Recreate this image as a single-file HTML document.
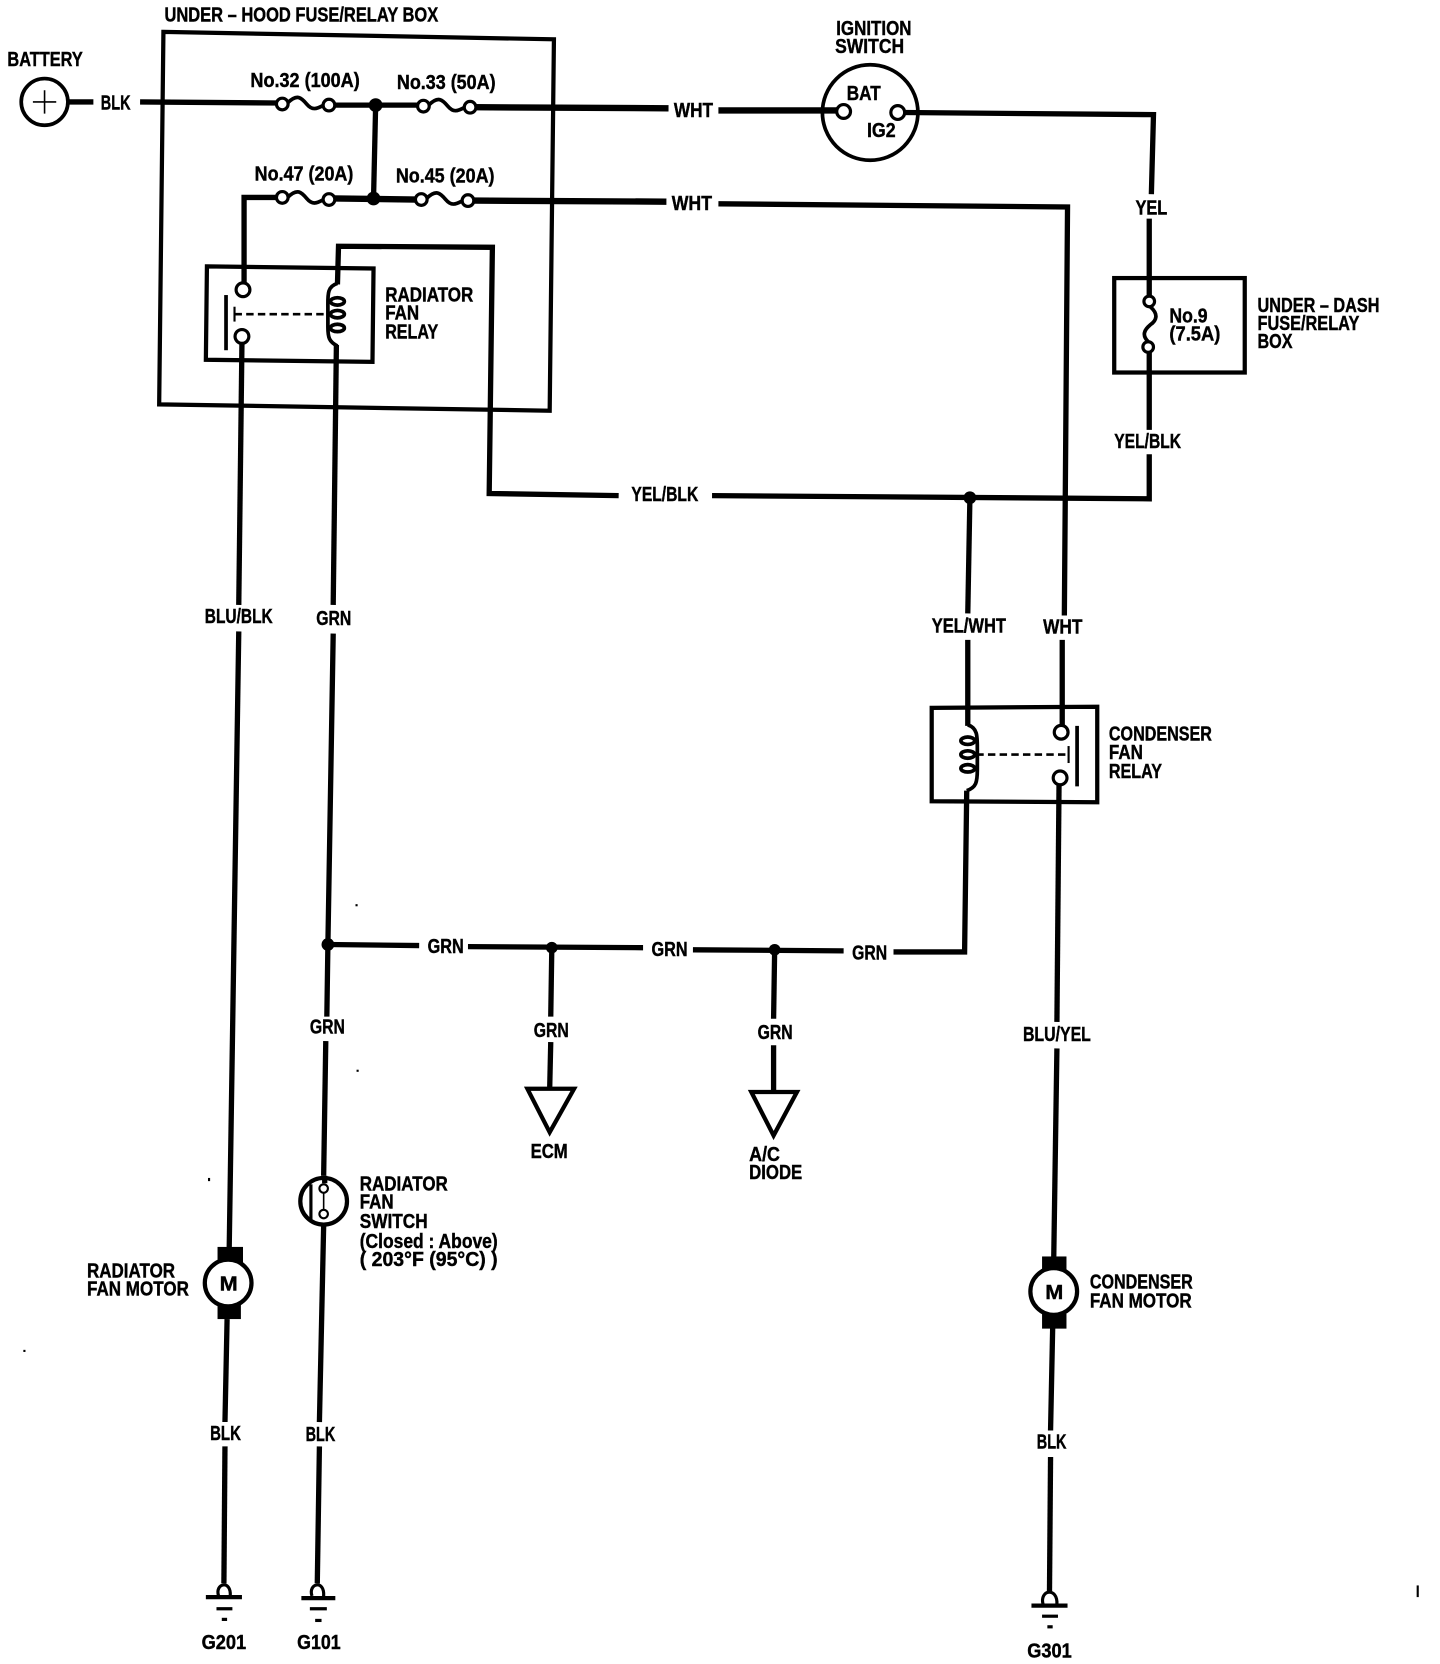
<!DOCTYPE html>
<html><head><meta charset="utf-8"><title>Cooling fan wiring diagram</title>
<style>
html,body{margin:0;padding:0;background:#fff}
svg{display:block}
text{font-family:"Liberation Sans",sans-serif;font-weight:bold;font-size:19px;fill:#000;stroke:#000;stroke-width:.4px}
.w{fill:none;stroke:#000;stroke-width:5;stroke-linejoin:miter}
.n{fill:none;stroke:#000;stroke-width:4}
.t{fill:#fff;stroke:#000;stroke-width:3}
.f{fill:none;stroke:#000;stroke-width:3.5}
.d{fill:#000;stroke:none}
</style></head><body>
<svg width="1440" height="1664" viewBox="0 0 1357 1568" xmlns="http://www.w3.org/2000/svg">
<!-- Boxes -->
<polygon class="n" points="154,30 522,37 518,387 150,381"/>
<polygon class="n" points="195,251 352,253 351,341 194,339"/>
<rect class="n" x="1050" y="262" width="123" height="89"/>
<polygon class="n" points="878,667 1034,666 1034,756 878,755"/>

<!-- Battery -->
<circle class="f" cx="42" cy="96" r="22"/>
<path d="M31,96H53M42,85V107" fill="none" stroke="#000" stroke-width="1.5"/>
<path class="w" stroke-width="6" d="M64,96H88"/>
<path class="w" d="M132,96L262,97"/>
<path class="w" stroke-width="6" d="M314,99L395,99"/>
<path class="w" d="M354,99L352,187"/>
<path class="w" style="stroke-width:6" d="M447,101L630,102"/>
<path class="w" style="stroke-width:6" d="M677,104L790,104"/>
<path class="w" d="M852,106L1087,108L1085,183"/>
<path class="w" d="M1083,206L1083,280"/>
<path class="w" d="M1083,332L1083,405"/>
<path class="w" d="M1083,428L1083,470L671,467"/>
<path class="w" d="M583,467L461,465L464,233L319,232L318,268"/>
<path class="w" d="M261,186L230,186L230,268"/>
<path class="w" style="stroke-width:6" d="M314,187L393,188"/>
<path class="w" style="stroke-width:6" d="M446,189L628,190"/>
<path class="w" d="M677,192L1006,195L1003,580"/>
<path class="w" d="M1001,603L1001,684"/>
<path class="w" d="M914,469L912,578"/>
<path class="w" d="M912,603L912,684"/>
<path class="w" d="M228,323L225,570"/>
<path class="w" d="M225,595L216,1176"/>
<path class="w" d="M317,325L314,570"/>
<path class="w" d="M314,597L309,890L308,958"/>
<path class="w" d="M307,981L305,1108"/>
<path class="w" d="M305,1155L301,1340"/>
<path class="w" d="M301,1363L299,1492"/>
<path class="w" d="M214,1243L212,1340"/>
<path class="w" d="M212,1363L211,1492"/>
<path class="w" d="M309,890L395,891"/>
<path class="w" d="M441,892L606,893"/>
<path class="w" d="M653,895L795,896"/>
<path class="w" d="M842,897L909,897L911,745"/>
<path class="w" d="M520,893L519,958"/>
<path class="w" d="M519,982L518,1026"/>
<path class="w" d="M730,895L729,960"/>
<path class="w" d="M729,985L729,1029"/>
<path class="w" d="M998,738L996,963"/>
<path class="w" d="M996,988L993,1186"/>
<path class="w" d="M992,1251L990,1348"/>
<path class="w" d="M990,1373L989,1500"/>

<!-- Junction dots -->
<circle class="d" cx="354" cy="99" r="6.5"/>
<circle class="d" cx="352" cy="187" r="6.5"/>
<circle class="d" cx="914" cy="469" r="6"/>
<circle class="d" cx="309" cy="890" r="6"/>
<circle class="d" cx="520" cy="893" r="5.5"/>
<circle class="d" cx="730" cy="895" r="5.5"/>

<!-- Fuses -->
<path class="f" d="M271,97C280,88 284,92 289,98C294,104 298,103 305,99"/>
<circle class="t" cx="266" cy="98" r="5.5"/><circle class="t" cx="310" cy="99" r="5.5"/>
<path class="f" d="M404,99C413,90 417,94 422,100C427,106 431,105 438,101"/>
<circle class="t" cx="399" cy="100" r="5.5"/><circle class="t" cx="443" cy="101" r="5.5"/>
<path class="f" d="M271,186C280,177 284,181 289,187C294,193 298,192 305,188"/>
<circle class="t" cx="266" cy="186" r="5.5"/><circle class="t" cx="310" cy="188" r="5.5"/>
<path class="f" d="M402,187C411,178 415,182 420,188C425,194 429,193 436,189"/>
<circle class="t" cx="397" cy="188" r="5.5"/><circle class="t" cx="441" cy="189" r="5.5"/>
<path class="f" d="M1084,289C1092,296 1090,302 1084,306C1078,311 1076,316 1082,322"/>
<circle class="t" cx="1083" cy="284" r="5"/><circle class="t" cx="1082" cy="327" r="5"/>

<!-- Ignition switch -->
<ellipse class="f" cx="820" cy="106" rx="45" ry="45"/>
<circle class="t" cx="795" cy="105" r="6.5"/><circle class="t" cx="846" cy="106" r="6.5"/>

<!-- Radiator fan relay -->
<circle class="t" cx="229" cy="273" r="6.5"/><circle class="t" cx="228" cy="317" r="6.5"/>
<path d="M213,278V330" stroke="#000" stroke-width="3.5"/>
<path d="M221,289V303" stroke="#000" stroke-width="2"/>
<path d="M221,296H309" stroke="#000" stroke-width="2.5" stroke-dasharray="7 4" fill="none"/>
<path class="f" d="M318,267C308,270 309,278 309,290V308C309,318 310,322 318,326"/>
<ellipse class="f" cx="318" cy="284" rx="6.5" ry="3.5"/>
<ellipse class="f" cx="318" cy="296" rx="6.5" ry="3.5"/>
<ellipse class="f" cx="318" cy="309" rx="6.5" ry="3.5"/>

<!-- Condenser fan relay -->
<circle class="t" cx="1000" cy="690" r="6.5"/><circle class="t" cx="999" cy="733" r="6.5"/>
<path d="M1015,684V741" stroke="#000" stroke-width="3.5"/>
<path d="M1007,703V719" stroke="#000" stroke-width="2"/>
<path d="M920,711H1007" stroke="#000" stroke-width="2.5" stroke-dasharray="7 4" fill="none"/>
<path class="f" d="M912,683C921,686 921,693 921,705V725C921,737 920,742 911,745"/>
<ellipse class="f" cx="912" cy="698" rx="6.5" ry="3.5"/>
<ellipse class="f" cx="912" cy="711" rx="6.5" ry="3.5"/>
<ellipse class="f" cx="912" cy="724" rx="6.5" ry="3.5"/>

<!-- Triangles -->
<polygon class="n" points="497,1026 541,1026 518,1067"/>
<polygon class="n" points="708,1029 751,1029 729,1070"/>

<!-- Motors -->
<rect class="d" x="205" y="1175" width="24" height="17"/>
<rect class="d" x="205" y="1228" width="22" height="15"/>
<circle cx="215" cy="1209" r="22" fill="#fff" stroke="#000" stroke-width="4"/>
<rect class="d" x="982" y="1184" width="23" height="14"/>
<rect class="d" x="982" y="1238" width="23" height="14"/>
<circle cx="993" cy="1217" r="22" fill="#fff" stroke="#000" stroke-width="4"/>

<!-- Radiator fan switch -->
<circle cx="305" cy="1132" r="22" fill="#fff" stroke="#000" stroke-width="4"/>
<path d="M293,1116V1150" stroke="#000" stroke-width="3"/>
<path d="M305,1124V1140" stroke="#000" stroke-width="1.5"/>
<circle class="t" cx="305" cy="1120" r="4" style="stroke-width:2"/>
<circle class="t" cx="305" cy="1144" r="4" style="stroke-width:2"/>
<path class="w" d="M306,1108V1115"/>

<!-- Grounds -->
<g fill="none" stroke="#000">
<path d="M206,1504C202,1492 218,1488 217,1504" stroke-width="3"/>
<path d="M194,1505H228" stroke-width="4"/><path d="M204,1516H219" stroke-width="3"/><path d="M209,1526H214" stroke-width="3"/>
<path d="M294,1504C290,1492 306,1488 305,1504" stroke-width="3"/>
<path d="M284,1506H316" stroke-width="4"/><path d="M292,1516H308" stroke-width="3"/><path d="M297,1527H303" stroke-width="3"/>
<path d="M983,1512C979,1498 997,1495 996,1512" stroke-width="3"/>
<path d="M972,1513H1006" stroke-width="4"/><path d="M982,1523H997" stroke-width="3"/><path d="M987,1533H992" stroke-width="3"/>
</g>

<!-- Specks -->
<g class="d"><rect x="196" y="1110" width="2" height="3"/><rect x="335" y="852" width="2" height="2"/><rect x="336" y="1008" width="2" height="2"/><rect x="22" y="1272" width="2" height="2"/><rect x="1335" y="1494" width="2" height="11"/></g>

<!-- Labels -->
<g>
<text x="155" y="20" textLength="258" lengthAdjust="spacingAndGlyphs">UNDER – HOOD FUSE/RELAY BOX</text>
<text x="7" y="62" textLength="71" lengthAdjust="spacingAndGlyphs">BATTERY</text>
<text x="95" y="103" textLength="28" lengthAdjust="spacingAndGlyphs">BLK</text>
<text x="236" y="82" textLength="103" lengthAdjust="spacingAndGlyphs">No.32 (100A)</text>
<text x="374" y="84" textLength="93" lengthAdjust="spacingAndGlyphs">No.33 (50A)</text>
<text x="240" y="170" textLength="93" lengthAdjust="spacingAndGlyphs">No.47 (20A)</text>
<text x="373" y="172" textLength="93" lengthAdjust="spacingAndGlyphs">No.45 (20A)</text>
<text x="635" y="110" textLength="37" lengthAdjust="spacingAndGlyphs">WHT</text>
<text x="633" y="198" textLength="38" lengthAdjust="spacingAndGlyphs">WHT</text>
<text x="363" y="284" textLength="83" lengthAdjust="spacingAndGlyphs">RADIATOR</text>
<text x="363" y="301" textLength="32" lengthAdjust="spacingAndGlyphs">FAN</text>
<text x="363" y="319" textLength="50" lengthAdjust="spacingAndGlyphs">RELAY</text>
<text x="788" y="33" textLength="71" lengthAdjust="spacingAndGlyphs">IGNITION</text>
<text x="787" y="50" textLength="65" lengthAdjust="spacingAndGlyphs">SWITCH</text>
<text x="798" y="94" textLength="32" lengthAdjust="spacingAndGlyphs">BAT</text>
<text x="817" y="129" textLength="27" lengthAdjust="spacingAndGlyphs">IG2</text>
<text x="1070" y="202" textLength="30" lengthAdjust="spacingAndGlyphs">YEL</text>
<text x="1102" y="304" textLength="36" lengthAdjust="spacingAndGlyphs">No.9</text>
<text x="1102" y="321" textLength="48" lengthAdjust="spacingAndGlyphs">(7.5A)</text>
<text x="1185" y="294" textLength="115" lengthAdjust="spacingAndGlyphs">UNDER – DASH</text>
<text x="1185" y="311" textLength="96" lengthAdjust="spacingAndGlyphs">FUSE/RELAY</text>
<text x="1185" y="328" textLength="33" lengthAdjust="spacingAndGlyphs">BOX</text>
<text x="1050" y="422" textLength="63" lengthAdjust="spacingAndGlyphs">YEL/BLK</text>
<text x="595" y="472" textLength="63" lengthAdjust="spacingAndGlyphs">YEL/BLK</text>
<text x="193" y="587" textLength="64" lengthAdjust="spacingAndGlyphs">BLU/BLK</text>
<text x="298" y="589" textLength="33" lengthAdjust="spacingAndGlyphs">GRN</text>
<text x="878" y="596" textLength="70" lengthAdjust="spacingAndGlyphs">YEL/WHT</text>
<text x="983" y="597" textLength="37" lengthAdjust="spacingAndGlyphs">WHT</text>
<text x="1045" y="698" textLength="97" lengthAdjust="spacingAndGlyphs">CONDENSER</text>
<text x="1045" y="715" textLength="32" lengthAdjust="spacingAndGlyphs">FAN</text>
<text x="1045" y="733" textLength="50" lengthAdjust="spacingAndGlyphs">RELAY</text>
<text x="403" y="898" textLength="34" lengthAdjust="spacingAndGlyphs">GRN</text>
<text x="614" y="901" textLength="34" lengthAdjust="spacingAndGlyphs">GRN</text>
<text x="803" y="904" textLength="33" lengthAdjust="spacingAndGlyphs">GRN</text>
<text x="292" y="974" textLength="33" lengthAdjust="spacingAndGlyphs">GRN</text>
<text x="503" y="977" textLength="33" lengthAdjust="spacingAndGlyphs">GRN</text>
<text x="714" y="979" textLength="33" lengthAdjust="spacingAndGlyphs">GRN</text>
<text x="964" y="981" textLength="64" lengthAdjust="spacingAndGlyphs">BLU/YEL</text>
<text x="500" y="1091" textLength="35" lengthAdjust="spacingAndGlyphs">ECM</text>
<text x="706" y="1094" textLength="29" lengthAdjust="spacingAndGlyphs">A/C</text>
<text x="706" y="1111" textLength="50" lengthAdjust="spacingAndGlyphs">DIODE</text>
<text x="339" y="1122" textLength="83" lengthAdjust="spacingAndGlyphs">RADIATOR</text>
<text x="339" y="1139" textLength="32" lengthAdjust="spacingAndGlyphs">FAN</text>
<text x="339" y="1157" textLength="64" lengthAdjust="spacingAndGlyphs">SWITCH</text>
<text x="339" y="1176" textLength="130" lengthAdjust="spacingAndGlyphs">(Closed : Above)</text>
<text x="339" y="1193" textLength="130" lengthAdjust="spacingAndGlyphs">( 203°F (95°C) )</text>
<text x="82" y="1204" textLength="83" lengthAdjust="spacingAndGlyphs">RADIATOR</text>
<text x="82" y="1221" textLength="96" lengthAdjust="spacingAndGlyphs">FAN MOTOR</text>
<text x="1027" y="1214" textLength="97" lengthAdjust="spacingAndGlyphs">CONDENSER</text>
<text x="1027" y="1232" textLength="96" lengthAdjust="spacingAndGlyphs">FAN MOTOR</text>
<text x="207" y="1216" textLength="17" lengthAdjust="spacingAndGlyphs">M</text>
<text x="985" y="1224" textLength="17" lengthAdjust="spacingAndGlyphs">M</text>
<text x="198" y="1357" textLength="29" lengthAdjust="spacingAndGlyphs">BLK</text>
<text x="288" y="1358" textLength="28" lengthAdjust="spacingAndGlyphs">BLK</text>
<text x="977" y="1365" textLength="28" lengthAdjust="spacingAndGlyphs">BLK</text>
<text x="190" y="1554" textLength="42" lengthAdjust="spacingAndGlyphs">G201</text>
<text x="280" y="1554" textLength="41" lengthAdjust="spacingAndGlyphs">G101</text>
<text x="968" y="1562" textLength="42" lengthAdjust="spacingAndGlyphs">G301</text>
</g>
</svg>
</body></html>
